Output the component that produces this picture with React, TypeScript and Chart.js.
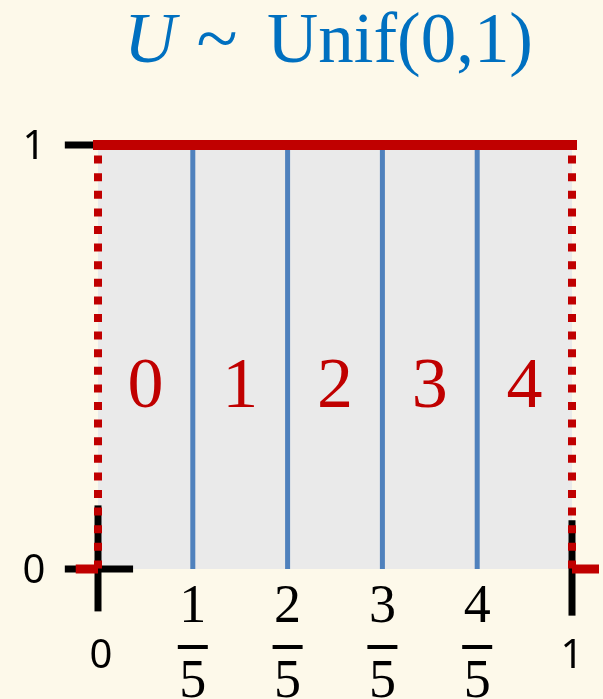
import React, { useEffect, useRef } from "react";
import { Chart, registerables } from "chart.js";

Chart.register(...registerables);

// ---- data ----
const density = 1; // Unif(0,1) pdf height
const cutPoints = [0.2, 0.4, 0.6, 0.8];
const regionCenters = [0.1, 0.3, 0.5, 0.7, 0.9];
const regionLabels = ["0", "1", "2", "3", "4"];
const fractionNumerators = ["1", "2", "3", "4"];
const fractionDenominator = "5";
const yTickValues = [0, 1];
const yTickLabels = ["0", "1"];
const xEndValues = [0, 1];
const xEndLabels = ["0", "1"];
const titleVar = "U";
const titleRest = "Unif(0,1)";

const RED = "#C00000";
const BLUE = "#4F81BD";
const BLACK = "#000000";
const GRAY = "#EAEAEA";
const CREAM = "#FDF9EA";
const TITLE_BLUE = "#0070C0";

const seg = (x1: number, y1: number, x2: number, y2: number) => [
  { x: x1, y: y1 },
  { x: x2, y: y2 },
];

export default function App() {
  const ref = useRef<HTMLCanvasElement | null>(null);

  useEffect(() => {
    if (!ref.current) return;

    const textPlugin = {
      id: "texts",
      afterDatasetsDraw(chart: any) {
        const { ctx } = chart;
        const xs = chart.scales.x;
        const ys = chart.scales.y;
        ctx.save();

        // region labels
        ctx.fillStyle = RED;
        ctx.font = '72px "Liberation Serif"';
        ctx.textAlign = "center";
        ctx.textBaseline = "alphabetic";
        regionCenters.forEach((v, i) => {
          ctx.fillText(regionLabels[i], xs.getPixelForValue(v), ys.getPixelForValue(0.382));
        });

        // fractions under the cut points
        ctx.fillStyle = BLACK;
        ctx.font = '54px "Liberation Serif"';
        const y0 = ys.getPixelForValue(0);
        cutPoints.forEach((v, i) => {
          const px = xs.getPixelForValue(v);
          ctx.fillText(fractionNumerators[i], px, y0 + 53);
          ctx.fillRect(px - 15, y0 + 76, 30, 4);
          ctx.fillText(fractionDenominator, px, y0 + 128);
        });

        // y labels
        ctx.font = '40px "Noto Sans"';
        yTickValues.forEach((v, i) => {
          ctx.fillText(yTickLabels[i], 34, ys.getPixelForValue(v) + 14);
        });
        // x end labels
        xEndValues.forEach((v, i) => {
          ctx.fillText(xEndLabels[i], xs.getPixelForValue(v) + (i === 0 ? 3 : 0), y0 + 99);
        });

        // title
        ctx.fillStyle = TITLE_BLUE;
        ctx.textAlign = "left";
        ctx.font = 'italic 72px "Liberation Serif"';
        ctx.fillText(titleVar, 124, 62);
        ctx.textAlign = "center";
        ctx.font = '76px "Liberation Serif"';
        ctx.fillText("~", 217, 64);
        ctx.font = '72px "Liberation Serif"';
        ctx.textAlign = "left";
        const w = ctx.measureText(titleRest).width;
        ctx.translate(267, 62);
        ctx.scale(266 / w, 1);
        ctx.fillText(titleRest, 0, 0);
        ctx.restore();
      },
    };

    const line = (data: any[], color: string, width: number, order: number, extra: any = {}) => ({
      data,
      showLine: true,
      borderColor: color,
      borderWidth: width,
      pointRadius: 0,
      pointHoverRadius: 0,
      fill: false,
      clip: false,
      order,
      ...extra,
    });

    const datasets: any[] = [
      // red dotted verticals
      line(seg(0, density, 0, 0), RED, 8, 1, { borderDash: [8, 9.6], borderDashOffset: 7 }),
      line(seg(1, density, 1, 0), RED, 8, 1, { borderDash: [8, 9.6], borderDashOffset: 7 }),
      // small red horizontals at zero
      line(seg(-0.047, 0, 0, 0), RED, 9, 1),
      line(seg(1, 0, 1.057, 0), RED, 9, 1),
      // density top line
      line(seg(0, density, 1, density), RED, 10, 2, { borderCapStyle: "square" }),
      // cut lines
      ...cutPoints.map((c) => line(seg(c, 0, c, density), BLUE, 5, 5)),
      // black axis bits
      line(seg(-0.07, density, 0, density), BLACK, 7, 6),
      line(seg(-0.07, 0, 0.074, 0), BLACK, 7, 6),
      line(seg(0, -0.1, 0, 0.15), BLACK, 7, 6),
      line(seg(1, -0.11, 1, 0.115), BLACK, 7, 6),
      // filled area
      {
        data: seg(0, density, 1, density),
        showLine: true,
        borderWidth: 0,
        borderColor: "rgba(0,0,0,0)",
        backgroundColor: GRAY,
        fill: "origin",
        pointRadius: 0,
        order: 10,
      },
    ];

    const chart = new Chart(ref.current, {
      type: "scatter",
      data: { datasets },
      options: {
        animation: false,
        responsive: false,
        events: [],
        layout: { padding: { left: 98, right: 31, top: 145, bottom: 130 } },
        scales: {
          x: { type: "linear", min: 0, max: 1, display: false },
          y: { type: "linear", min: 0, max: 1, display: false },
        },
        plugins: { legend: { display: false }, tooltip: { enabled: false }, title: { display: false } },
      },
      plugins: [textPlugin],
    });
    return () => chart.destroy();
  }, []);

  return (
    <div style={{ position: "absolute", left: 0, top: 0, width: 603, height: 699, background: CREAM }}>
      <canvas ref={ref} width={603} height={699} style={{ display: "block" }} />
    </div>
  );
}
